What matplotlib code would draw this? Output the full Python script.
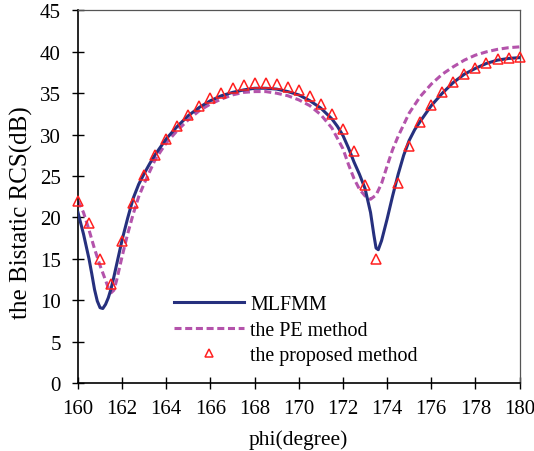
import matplotlib
matplotlib.use("Agg")
import matplotlib.pyplot as plt

plt.rcParams['font.family'] = ['Liberation Serif', 'DejaVu Serif']

# MLFMM (solid)
mlfmm_x = [160.0, 160.25, 160.5, 160.625, 160.75, 160.875, 161.0, 161.125, 161.25, 161.375,
           161.5, 161.625, 161.75, 162.0, 162.25, 162.5, 162.75, 163.0, 163.25, 163.5,
           164.0, 164.5, 165.0, 165.5, 166.0, 166.5, 167.0, 167.5, 168.0, 168.5,
           169.0, 169.5, 170.0, 170.5, 171.0, 171.5, 171.75, 172.0, 172.25, 172.5,
           172.75, 173.0, 173.25, 173.4, 173.5, 173.6, 173.75, 174.0, 174.25, 174.5,
           174.75, 175.0, 175.25, 175.5, 176.0, 176.5, 177.0, 177.5, 178.0, 178.5,
           179.0, 179.5, 180.0]
mlfmm_y = [20.6, 18.0, 15.0, 13.2, 11.3, 9.9, 9.1, 9.0, 9.5, 10.3,
           11.4, 12.8, 14.3, 17.3, 19.9, 22.3, 24.0, 25.3, 26.5, 27.6,
           29.5, 31.0, 32.3, 33.3, 34.1, 34.7, 35.1, 35.4, 35.6, 35.6,
           35.5, 35.2, 34.8, 34.1, 33.2, 31.9, 31.0, 29.9, 28.4, 26.7,
           25.2, 23.5, 20.6, 17.9, 16.3, 16.1, 17.2, 19.8, 22.6, 25.2,
           27.5, 29.3, 30.6, 31.6, 33.5, 35.0, 36.3, 37.3, 38.0, 38.6,
           39.0, 39.2, 39.3]

# the PE method (dashed)
pe_x = [160.0, 160.25, 160.5, 160.75, 161.0, 161.25, 161.375, 161.5, 161.625, 161.75,
        162.0, 162.25, 162.5, 162.75, 163.0, 163.5, 164.0, 164.5, 165.0, 165.5,
        166.0, 166.5, 167.0, 167.5, 168.0, 168.5, 169.0, 169.5, 170.0, 170.5,
        171.0, 171.5, 172.0, 172.25, 172.5, 172.75, 173.0, 173.25, 173.5, 173.75,
        174.0, 174.25, 174.5, 175.0, 175.5, 176.0, 176.5, 177.0, 177.5, 178.0,
        178.5, 179.0, 179.5, 180.0]
pe_y = [22.0, 20.6, 18.5, 16.2, 14.2, 12.4, 11.5, 10.9, 11.2, 12.4,
        15.3, 18.0, 20.4, 22.5, 24.1, 27.0, 29.0, 30.5, 31.8, 32.9,
        33.7, 34.3, 34.8, 35.1, 35.2, 35.2, 35.0, 34.7, 34.2, 33.5,
        32.4, 30.8, 28.3, 26.4, 24.7, 23.4, 22.6, 22.2, 22.7, 24.1,
        26.2, 28.2, 29.8, 32.6, 34.6, 36.1, 37.3, 38.2, 39.0, 39.6,
        40.0, 40.3, 40.5, 40.6]

# the proposed method (triangles)
prop_x = [160.0, 160.5, 161.0, 161.5, 162.0, 162.5, 163.0, 163.5, 164.0, 164.5,
          165.0, 165.5, 166.0, 166.5, 167.0, 167.5, 168.0, 168.5, 169.0, 169.5,
          170.0, 170.5, 171.0, 171.5, 172.0, 172.5, 173.0, 173.5, 174.5, 175.0,
          175.5, 176.0, 176.5, 177.0, 177.5, 178.0, 178.5, 179.0, 179.5, 180.0]
prop_y = [22.0, 19.3, 15.0, 11.9, 17.1, 21.8, 25.1, 27.6, 29.5, 31.1,
          32.4, 33.5, 34.4, 35.0, 35.6, 35.95, 36.2, 36.2, 36.15, 35.8,
          35.4, 34.7, 33.65, 32.45, 30.7, 28.0, 23.9, 15.0, 24.2, 28.6,
          31.5, 33.6, 35.2, 36.4, 37.35, 38.1, 38.7, 39.1, 39.3, 39.35]

xticks = [160, 162, 164, 166, 168, 170, 172, 174, 176, 178, 180]
yticks = [0, 5, 10, 15, 20, 25, 30, 35, 40, 45]

fig = plt.figure(figsize=(5.34, 4.52), dpi=100)
ax = fig.add_axes([0.146, 0.1504, 0.827, 0.8243])

ax.plot(mlfmm_x, mlfmm_y, color='#26307e', lw=2.2, label='MLFMM', zorder=3)
ax.plot(pe_x, pe_y, color='#b453ab', lw=2.2, dashes=(2.3, 1.2), label='the PE method', zorder=2)
ax.plot(prop_x, prop_y, ls='none', marker='^', markersize=6.5, markerfacecolor='none',
        markeredgecolor='#ff1f1f', markeredgewidth=1.1, label='the proposed method',
        zorder=4, clip_on=False)

ax.set_xlim(160, 180)
ax.set_ylim(0, 45)
ax.set_xticks(xticks)
ax.set_yticks(yticks)
ax.tick_params(direction='inout', length=8.5, width=1.0, labelsize=15, pad=7, colors='black')
ax.tick_params(axis='y', pad=8)

for s in ['left', 'bottom']:
    ax.spines[s].set_color('black')
    ax.spines[s].set_linewidth(1.2)
for s in ['top', 'right']:
    ax.spines[s].set_color('#555555')
    ax.spines[s].set_linewidth(0.9)

ax.set_xlabel('phi(degree)', fontsize=15.5)
ax.set_ylabel('the Bistatic RCS(dB)', fontsize=18)
ax.xaxis.set_label_coords(0.5, -0.151)
ax.yaxis.set_label_coords(-0.127, 0.459)
ax.xaxis.label.set_va('center')
ax.yaxis.label.set_va('center')

leg = ax.legend(loc='upper left', bbox_to_anchor=(0.2174, 0.235), frameon=False, fontsize=14.4,
                handlelength=3.5, handletextpad=0.3, labelspacing=0.32, numpoints=1,
                markerscale=0.85, borderaxespad=0, borderpad=0)

fig.savefig('out.png', dpi=100)
